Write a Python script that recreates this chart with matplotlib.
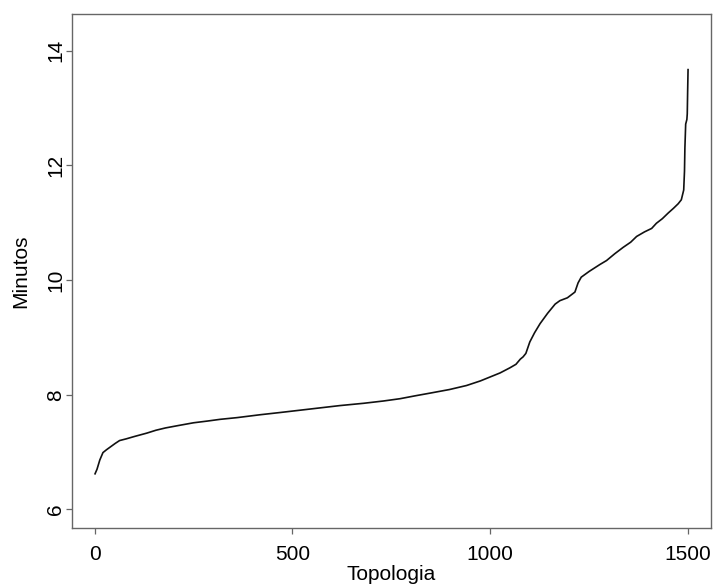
import matplotlib
matplotlib.use("Agg")
import matplotlib.pyplot as plt

plt.rcParams['font.family'] = ['Liberation Sans', 'DejaVu Sans']

# Sorted run times (index of topology, minutes)
topologia = [1, 6, 13, 21, 30, 40, 52, 63, 80, 100, 132, 155, 179, 210, 250, 285,
             317, 360, 418, 470, 520, 570, 620, 680, 730, 772, 810, 850, 897,
             940, 975, 1000, 1025, 1050, 1065, 1076, 1083, 1090, 1100, 1112,
             1126, 1145, 1164, 1176, 1195, 1214, 1222, 1230, 1250, 1277, 1294,
             1315, 1336, 1355, 1370, 1390, 1408, 1420, 1435, 1450, 1463, 1475,
             1483, 1489, 1491, 1492, 1494, 1497, 1498, 1499, 1500]
minutos = [6.62, 6.70, 6.86, 6.99, 7.04, 7.09, 7.15, 7.20, 7.23, 7.27, 7.33, 7.38,
           7.42, 7.46, 7.51, 7.54, 7.57, 7.60, 7.65, 7.69, 7.73, 7.77, 7.81, 7.85,
           7.89, 7.93, 7.98, 8.03, 8.09, 8.16, 8.24, 8.31, 8.38, 8.47, 8.53,
           8.62, 8.66, 8.72, 8.92, 9.08, 9.24, 9.42, 9.58, 9.64, 9.69, 9.79,
           9.95, 10.05, 10.15, 10.27, 10.34, 10.46, 10.57, 10.66, 10.76, 10.84,
           10.90, 10.99, 11.07, 11.17, 11.25, 11.33, 11.40, 11.57, 11.90, 12.30,
           12.72, 12.80, 12.90, 13.30, 13.67]

xticks = [0, 500, 1000, 1500]
yticks = [6, 8, 10, 12, 14]

fig = plt.figure(figsize=(7.13, 5.85), dpi=100)
ax = fig.add_axes([71.7 / 713, (585 - 527.7) / 585, (711 - 71.7) / 713, (527.7 - 14) / 585])

ax.plot(topologia, minutos, color='#111111', lw=1.2)

ax.set_xlim(-58, 1558)
ax.set_ylim(5.68, 14.64)
ax.set_xticks(xticks)
ax.set_yticks(yticks)
ax.set_xticklabels([str(v) for v in xticks], fontsize=15)
ax.set_yticklabels([str(v) for v in yticks], fontsize=15, rotation=90, va='center')

for s in ax.spines.values():
    s.set_color('#666666')
    s.set_linewidth(1.0)
ax.tick_params(axis='both', direction='out', length=4.5, width=0.9, color='#666666')
ax.tick_params(axis='x', pad=8)
ax.tick_params(axis='y', pad=0)

ax.set_xlabel('Topologia', fontsize=15, labelpad=1)
ax.set_ylabel('Minutos', fontsize=15, labelpad=12)

fig.savefig('out.png', dpi=100)
